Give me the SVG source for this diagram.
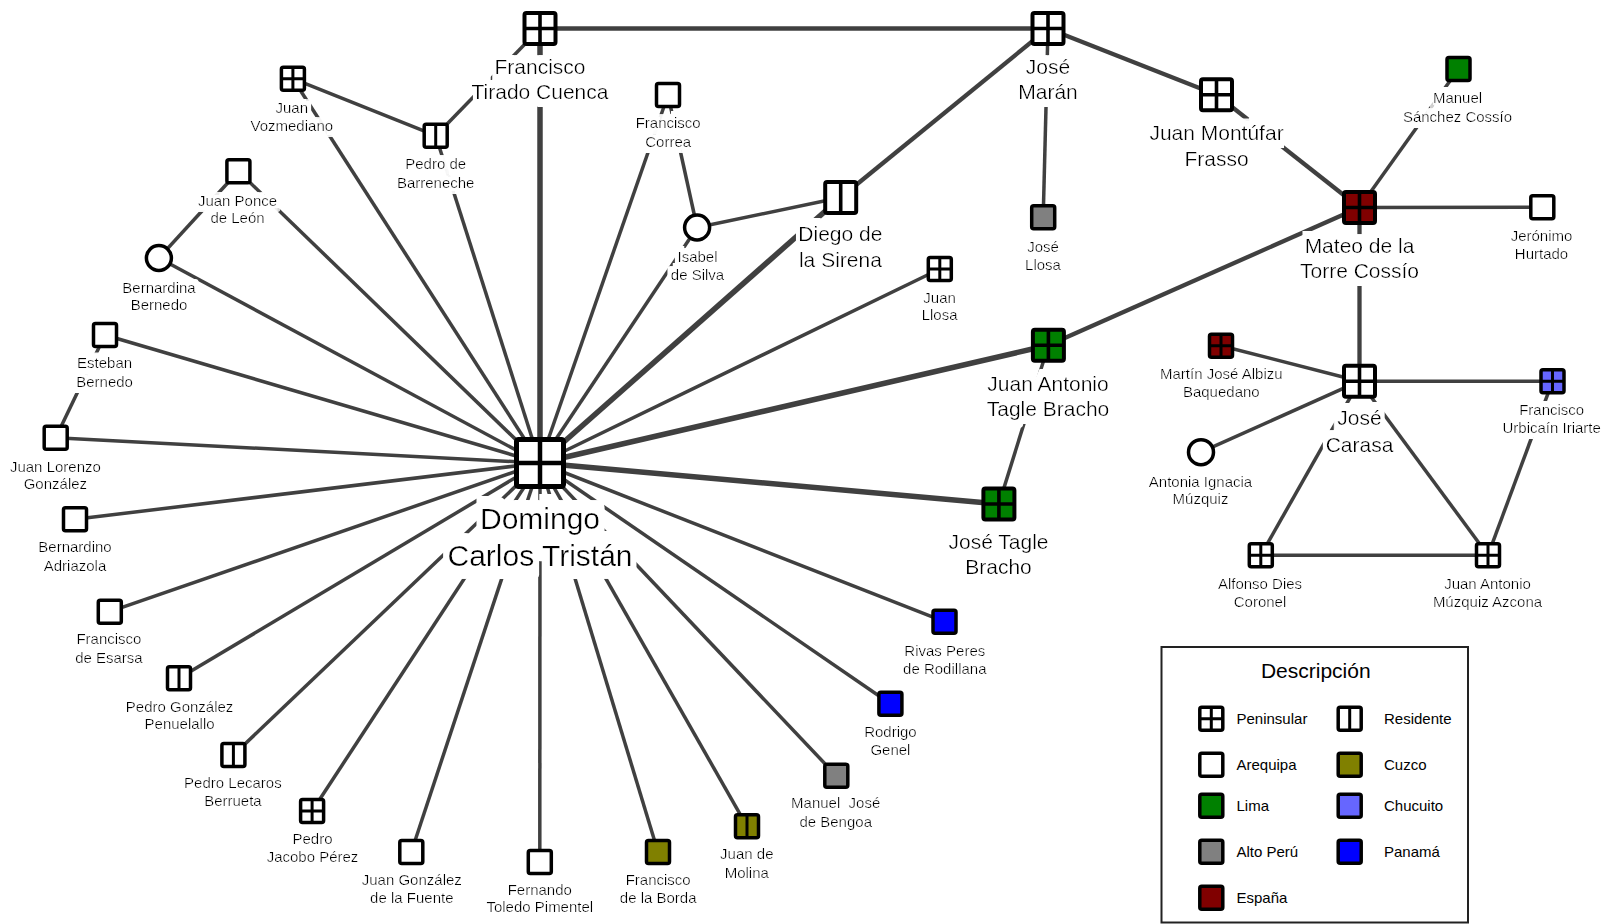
<svg xmlns="http://www.w3.org/2000/svg" width="1607" height="924" viewBox="0 0 1607 924">
  <style>
    .edge path { stroke: #404040; stroke-width: 3.5; fill: none; }
    .edge path.m { stroke-width: 4.3; }
    .edge path.t { stroke-width: 5.5; }
    use { stroke: #000; fill: #fff; }
    use.cuzco { fill: #808000; }
    use.lima { fill: #008000; }
    use.chucuito { fill: #6666ff; }
    use.altoperu { fill: #808080; }
    use.panama { fill: #0000ff; }
    use.espana { fill: #800000; }
    text { font-family: "Liberation Sans", Arial, sans-serif; fill: #000; text-anchor: middle; }
    .s { font-size: 15px; }
    .m { font-size: 21px; }
    .l { font-size: 30px; }
    .lbl { filter: url(#bg); }
    .lbl-m { filter: url(#bgM); }
    .lbl-l { filter: url(#bgL); }
    text.item { text-anchor: start; font-size: 15px; }
  </style>
  <defs>
    <!-- white backing under labels, grown from the glyph shapes -->
    <filter id="bg" x="-0.3" y="-0.6" width="1.6" height="2.2">
      <feMorphology in="SourceAlpha" operator="dilate" radius="3.5 6" result="grown"/>
      <feFlood flood-color="#fff"/>
      <feComposite in2="grown" operator="in"/>
      <feMerge><feMergeNode/><feMergeNode in="SourceGraphic"/></feMerge>
    </filter>
    <filter id="bgM" x="-0.3" y="-0.6" width="1.6" height="2.2">
      <feMorphology in="SourceAlpha" operator="dilate" radius="4 8" result="grown"/>
      <feFlood flood-color="#fff"/>
      <feComposite in2="grown" operator="in"/>
      <feMerge><feMergeNode/><feMergeNode in="SourceGraphic"/></feMerge>
    </filter>
    <filter id="bgL" x="-0.3" y="-0.6" width="1.6" height="2.2">
      <feMorphology in="SourceAlpha" operator="dilate" radius="6 13" result="grown"/>
      <feFlood flood-color="#fff"/>
      <feComposite in2="grown" operator="in"/>
      <feMerge><feMergeNode/><feMergeNode in="SourceGraphic"/></feMerge>
    </filter>
    <!-- small icons -->
    <g id="qS" stroke-linejoin="round"><rect x="-11.5" y="-11.5" width="23" height="23" rx="2" stroke-width="3.5"/></g>
    <g id="pS" stroke-linejoin="round"><rect x="-11.5" y="-11.5" width="23" height="23" rx="2" stroke-width="3.5"/><path d="M0,-11.5V11.5M-11.5,0H11.5" stroke-width="3"/></g>
    <g id="rS" stroke-linejoin="round"><rect x="-11.5" y="-11.5" width="23" height="23" rx="2" stroke-width="3.5"/><path d="M0,-11.5V11.5" stroke-width="3"/></g>
    <g id="cS"><circle r="12.5" stroke-width="3.5"/></g>
    <!-- medium icons -->
    <g id="pM" stroke-linejoin="round"><rect x="-15.5" y="-15.5" width="31" height="31" rx="2" stroke-width="4"/><path d="M0,-15.5V15.5M-15.5,0H15.5" stroke-width="3.6"/></g>
    <g id="rM" stroke-linejoin="round"><rect x="-15.5" y="-15.5" width="31" height="31" rx="2" stroke-width="4"/><path d="M0,-15.5V15.5" stroke-width="3.6"/></g>
    <!-- large icon -->
    <g id="pL" stroke-linejoin="round"><rect x="-23.5" y="-23.5" width="47" height="47" rx="2" stroke-width="5"/><path d="M0,-23.5V23.5M-23.5,0H23.5" stroke-width="4.5"/></g>
  </defs>

  <g class="edge">
    <!-- hub: Domingo Carlos Tristán -->
    <path class="t" d="M540,463L540,28.5"/>
    <path class="t" d="M540,463L840.7,197.5"/>
    <path class="t" d="M540,463L1048.4,345.3"/>
    <path class="t" d="M540,463L998.9,504"/>
    <path d="M540,463L292.9,78.7"/>
    <path d="M540,463L435.7,135.7"/>
    <path d="M540,463L238.4,171.3"/>
    <path d="M540,463L158.9,258"/>
    <path d="M540,463L105,335"/>
    <path d="M540,463L55.7,437.7"/>
    <path d="M540,463L75,519.3"/>
    <path d="M540,463L109.8,611.7"/>
    <path d="M540,463L179,678.3"/>
    <path d="M540,463L233.4,755"/>
    <path d="M540,463L312.1,811"/>
    <path d="M540,463L411.3,852"/>
    <path d="M540,463L539.8,862"/>
    <path d="M540,463L658,852"/>
    <path d="M540,463L747,826.3"/>
    <path d="M540,463L836.3,775.7"/>
    <path d="M540,463L890.4,703.7"/>
    <path d="M540,463L944.5,621.7"/>
    <path d="M540,463L939.8,269"/>
    <path d="M540,463L697.1,227.5"/>
    <path d="M540,463L668,95"/>
    <!-- other ties -->
    <path d="M292.9,78.7L435.7,135.7"/>
    <path d="M435.7,135.7L540,28.5"/>
    <path d="M238.4,171.3L158.9,258"/>
    <path d="M105,335L55.7,437.7"/>
    <path d="M668,95L697.1,227.5"/>
    <path d="M697.1,227.5L840.7,197.5"/>
    <path class="m" d="M840.7,197.5L1048,28.5"/>
    <path class="m" d="M540,28.5L1048,28.5"/>
    <path d="M1048,28.5L1043.2,217.3"/>
    <path class="m" d="M1048,28.5L1216.5,94.7"/>
    <path class="m" d="M1216.5,94.7L1359.5,207.5"/>
    <path d="M1359.5,207.5L1458.5,69"/>
    <path d="M1359.5,207.5L1542.3,207.3"/>
    <path class="m" d="M1359.5,207.5L1048.4,345.3"/>
    <path class="m" d="M1359.5,207.5L1359.5,381.2"/>
    <path d="M1048.4,345.3L998.9,504"/>
    <path d="M1359.5,381.2L1221,345.7"/>
    <path d="M1359.5,381.2L1201,452.2"/>
    <path d="M1359.5,381.2L1552.5,381.3"/>
    <path d="M1359.5,381.2L1260.8,555.2"/>
    <path d="M1359.5,381.2L1488,555.2"/>
    <path d="M1260.8,555.2L1488,555.2"/>
    <path d="M1552.5,381.3L1488,555.2"/>
  </g>

  <g id="domingo"><use href="#pL" x="540" y="463"/><g class="lbl-l"><text class="l" x="540" y="529">Domingo</text><text class="l" x="540" y="566">Carlos Tristán</text></g></g>
  <g id="tirado"><use href="#pM" x="540" y="28.5"/><g class="lbl-m"><text class="m" x="540" y="74">Francisco</text><text class="m" x="540" y="99">Tirado Cuenca</text></g></g>
  <g id="maran"><use href="#pM" x="1048" y="28.5"/><g class="lbl-m"><text class="m" x="1048" y="73.5">José</text><text class="m" x="1048" y="99">Marán</text></g></g>
  <g id="montufar"><use href="#pM" x="1216.5" y="94.7"/><g class="lbl-m"><text class="m" x="1216.5" y="140">Juan Montúfar</text><text class="m" x="1216.5" y="165.5">Frasso</text></g></g>
  <g id="mateo"><use href="#pM" x="1359.5" y="207.5" class="espana"/><g class="lbl-m"><text class="m" x="1359.5" y="253.3">Mateo de la</text><text class="m" x="1359.5" y="277.5">Torre Cossío</text></g></g>
  <g id="sanchez"><use href="#qS" x="1458.5" y="69" class="lima"/><g class="lbl"><text class="s" x="1457.5" y="102.7">Manuel</text><text class="s" x="1457.5" y="121.5">Sánchez Cossío</text></g></g>
  <g id="jeronimo"><use href="#qS" x="1542.3" y="207.3"/><g class="lbl"><text class="s" x="1541.5" y="240.5">Jerónimo</text><text class="s" x="1541.5" y="259">Hurtado</text></g></g>
  <g id="jose-llosa"><use href="#qS" x="1043.2" y="217.3" class="altoperu"/><g class="lbl"><text class="s" x="1043" y="251.5">José</text><text class="s" x="1043" y="269.5">Llosa</text></g></g>
  <g id="diego"><use href="#rM" x="840.7" y="197.5"/><g class="lbl-m"><text class="m" x="840.4" y="240.7">Diego de</text><text class="m" x="840.4" y="266.7">la Sirena</text></g></g>
  <g id="correa"><use href="#qS" x="668" y="95"/><g class="lbl"><text class="s" x="668.2" y="128.3">Francisco</text><text class="s" x="668.2" y="146.5">Correa</text></g></g>
  <g id="isabel"><use href="#cS" x="697.1" y="227.5"/><g class="lbl"><text class="s" x="697.5" y="261.5">Isabel</text><text class="s" x="697.5" y="279.5">de Silva</text></g></g>
  <g id="juan-llosa"><use href="#pS" x="939.8" y="269"/><g class="lbl"><text class="s" x="939.6" y="302.7">Juan</text><text class="s" x="939.6" y="320">Llosa</text></g></g>
  <g id="ja-tagle"><use href="#pM" x="1048.4" y="345.3" class="lima"/><g class="lbl-m"><text class="m" x="1048" y="390.7">Juan Antonio</text><text class="m" x="1048" y="415.7">Tagle Bracho</text></g></g>
  <g id="jose-tagle"><use href="#pM" x="998.9" y="504" class="lima"/><g class="lbl-m"><text class="m" x="998.5" y="549.3">José Tagle</text><text class="m" x="998.5" y="574.3">Bracho</text></g></g>
  <g id="rivas"><use href="#qS" x="944.5" y="621.7" class="panama"/><g class="lbl"><text class="s" x="944.8" y="655.7">Rivas Peres</text><text class="s" x="944.8" y="673.5">de Rodillana</text></g></g>
  <g id="genel"><use href="#qS" x="890.4" y="703.7" class="panama"/><g class="lbl"><text class="s" x="890.4" y="736.7">Rodrigo</text><text class="s" x="890.4" y="755">Genel</text></g></g>
  <g id="bengoa"><use href="#qS" x="836.3" y="775.7" class="altoperu"/><g class="lbl"><text class="s" x="835.7" y="808.3" style="white-space:pre">Manuel  José</text><text class="s" x="835.7" y="826.7">de Bengoa</text></g></g>
  <g id="molina"><use href="#rS" x="747" y="826.3" class="cuzco"/><g class="lbl"><text class="s" x="746.8" y="859.3">Juan de</text><text class="s" x="746.8" y="878.3">Molina</text></g></g>
  <g id="borda"><use href="#qS" x="658" y="852" class="cuzco"/><g class="lbl"><text class="s" x="658.2" y="885">Francisco</text><text class="s" x="658.2" y="903.3">de la Borda</text></g></g>
  <g id="toledo"><use href="#qS" x="539.8" y="862"/><g class="lbl"><text class="s" x="539.8" y="895">Fernando</text><text class="s" x="539.8" y="912">Toledo Pimentel</text></g></g>
  <g id="fuente"><use href="#qS" x="411.3" y="852"/><g class="lbl"><text class="s" x="411.8" y="885">Juan González</text><text class="s" x="411.8" y="903.3">de la Fuente</text></g></g>
  <g id="jacobo"><use href="#pS" x="312.1" y="811"/><g class="lbl"><text class="s" x="312.5" y="844.3">Pedro</text><text class="s" x="312.5" y="862">Jacobo Pérez</text></g></g>
  <g id="lecaros"><use href="#rS" x="233.4" y="755"/><g class="lbl"><text class="s" x="232.9" y="788.3">Pedro Lecaros</text><text class="s" x="232.9" y="806">Berrueta</text></g></g>
  <g id="penuelallo"><use href="#rS" x="179" y="678.3"/><g class="lbl"><text class="s" x="179.6" y="711.7">Pedro González</text><text class="s" x="179.6" y="729.3">Penuelallo</text></g></g>
  <g id="esarsa"><use href="#qS" x="109.8" y="611.7"/><g class="lbl"><text class="s" x="108.9" y="644.3">Francisco</text><text class="s" x="108.9" y="662.7">de Esarsa</text></g></g>
  <g id="adriazola"><use href="#qS" x="75" y="519.3"/><g class="lbl"><text class="s" x="75" y="552.3">Bernardino</text><text class="s" x="75" y="570.7">Adriazola</text></g></g>
  <g id="lorenzo"><use href="#qS" x="55.7" y="437.7"/><g class="lbl"><text class="s" x="55.4" y="471.7">Juan Lorenzo</text><text class="s" x="55.4" y="489.3">González</text></g></g>
  <g id="esteban"><use href="#qS" x="105" y="335"/><g class="lbl"><text class="s" x="104.6" y="368.3">Esteban</text><text class="s" x="104.6" y="387.3">Bernedo</text></g></g>
  <g id="bernardina"><use href="#cS" x="158.9" y="258"/><g class="lbl"><text class="s" x="159" y="292.7">Bernardina</text><text class="s" x="159" y="310">Bernedo</text></g></g>
  <g id="ponce"><use href="#qS" x="238.4" y="171.3"/><g class="lbl"><text class="s" x="237.5" y="205.7">Juan Ponce</text><text class="s" x="237.5" y="222.7">de León</text></g></g>
  <g id="vozmediano"><use href="#pS" x="292.9" y="78.7"/><g class="lbl"><text class="s" x="291.8" y="113.3">Juan</text><text class="s" x="291.8" y="131">Vozmediano</text></g></g>
  <g id="barreneche"><use href="#rS" x="435.7" y="135.7"/><g class="lbl"><text class="s" x="435.7" y="169.3">Pedro de</text><text class="s" x="435.7" y="187.7">Barreneche</text></g></g>
  <g id="carasa"><use href="#pM" x="1359.5" y="381.2"/><g class="lbl-m"><text class="m" x="1359.5" y="425">José</text><text class="m" x="1359.5" y="451.5">Carasa</text></g></g>
  <g id="albizu"><use href="#pS" x="1221" y="345.7" class="espana"/><g class="lbl"><text class="s" x="1221.3" y="378.7">Martín José Albizu</text><text class="s" x="1221.3" y="397.3">Baquedano</text></g></g>
  <g id="antonia"><use href="#cS" x="1201" y="452.2"/><g class="lbl"><text class="s" x="1200.5" y="486.7">Antonia Ignacia</text><text class="s" x="1200.5" y="504">Múzquiz</text></g></g>
  <g id="urbicain"><use href="#pS" x="1552.5" y="381.3" class="chucuito"/><g class="lbl"><text class="s" x="1551.7" y="415">Francisco</text><text class="s" x="1551.7" y="433.3">Urbicaín Iriarte</text></g></g>
  <g id="alfonso"><use href="#pS" x="1260.8" y="555.2"/><g class="lbl"><text class="s" x="1260" y="588.7">Alfonso Dies</text><text class="s" x="1260" y="607.3">Coronel</text></g></g>
  <g id="muzquiz"><use href="#pS" x="1488" y="555.2"/><g class="lbl"><text class="s" x="1487.5" y="588.7">Juan Antonio</text><text class="s" x="1487.5" y="607.3">Múzquiz Azcona</text></g></g>

  <g id="legend">
    <rect x="1161.5" y="647" width="306.5" height="275.5" fill="#fff" stroke="#222" stroke-width="2"/>
    <text class="m" x="1315.8" y="677.7">Descripción</text>
    <use href="#pS" x="1211.3" y="718.8"/><text class="item" x="1236.5" y="724.3">Peninsular</text>
    <use href="#rS" x="1349.7" y="718.8"/><text class="item" x="1384" y="724.3">Residente</text>
    <use href="#qS" x="1211.3" y="764.8"/><text class="item" x="1236.5" y="770.3">Arequipa</text>
    <use href="#qS" x="1349.7" y="764.8" class="cuzco"/><text class="item" x="1384" y="770.3">Cuzco</text>
    <use href="#qS" x="1211.3" y="805.8" class="lima"/><text class="item" x="1236.5" y="811.3">Lima</text>
    <use href="#qS" x="1349.7" y="805.8" class="chucuito"/><text class="item" x="1384" y="811.3">Chucuito</text>
    <use href="#qS" x="1211.3" y="851.8" class="altoperu"/><text class="item" x="1236.5" y="857.3">Alto Perú</text>
    <use href="#qS" x="1349.7" y="851.8" class="panama"/><text class="item" x="1384" y="857.3">Panamá</text>
    <use href="#qS" x="1211.3" y="897.8" class="espana"/><text class="item" x="1236.5" y="903.3">España</text>
  </g>
</svg>
